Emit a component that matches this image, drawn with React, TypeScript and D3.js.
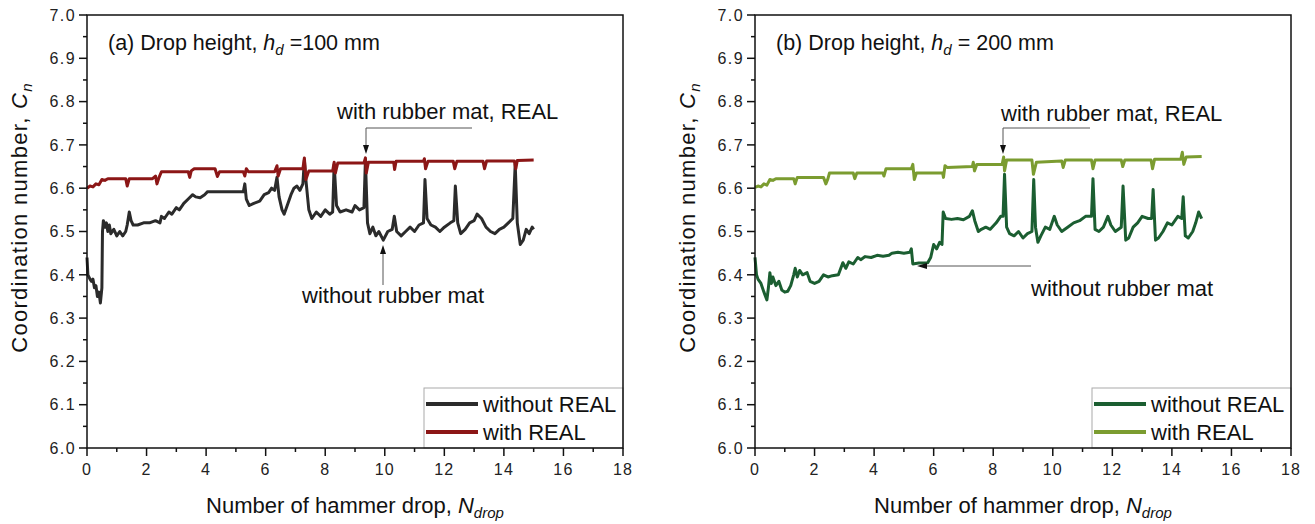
import React from 'react';
import * as d3 from 'd3';

type Pt = [number, number];

const xTickValues = [0, 2, 4, 6, 8, 10, 12, 14, 16, 18];
const xMinorValues = [1, 3, 5, 7, 9, 11, 13, 15, 17];
const yTickValues = [6.0, 6.1, 6.2, 6.3, 6.4, 6.5, 6.6, 6.7, 6.8, 6.9, 7.0];
const yMinorValues = [6.05, 6.15, 6.25, 6.35, 6.45, 6.55, 6.65, 6.75, 6.85, 6.95];
const legendLabels = ['without REAL', 'with REAL'];

// Panel (a): drop height 100 mm
const aWithout: Pt[] = [
  [0, 6.44], [0.03, 6.40], [0.1, 6.39], [0.15, 6.385], [0.2, 6.39], [0.25, 6.37], [0.3, 6.375], [0.35, 6.35],
  [0.4, 6.36], [0.45, 6.335], [0.5, 6.37], [0.52, 6.50], [0.55, 6.525], [0.6, 6.51], [0.65, 6.52], [0.7, 6.50],
  [0.75, 6.515], [0.8, 6.495], [0.9, 6.505], [1.0, 6.49], [1.1, 6.50], [1.2, 6.49], [1.3, 6.50], [1.35, 6.515],
  [1.42, 6.545], [1.48, 6.525], [1.55, 6.515], [1.7, 6.515], [1.9, 6.52], [2.1, 6.52], [2.3, 6.525], [2.45, 6.52],
  [2.5, 6.535], [2.6, 6.53], [2.75, 6.545], [2.85, 6.54], [3.0, 6.555], [3.1, 6.55], [3.25, 6.565], [3.4, 6.575],
  [3.55, 6.585], [3.65, 6.58], [3.8, 6.578], [3.95, 6.585], [4.05, 6.592], [5.25, 6.592], [5.3, 6.61], [5.35, 6.575],
  [5.45, 6.56], [5.6, 6.565], [5.8, 6.57], [5.95, 6.585], [6.1, 6.59], [6.2, 6.60], [6.3, 6.595], [6.38, 6.625],
  [6.45, 6.58], [6.55, 6.55], [6.62, 6.54], [6.75, 6.565], [6.85, 6.585], [6.95, 6.60], [7.05, 6.605], [7.15, 6.595],
  [7.25, 6.61], [7.3, 6.665], [7.35, 6.62], [7.45, 6.55], [7.55, 6.53], [7.7, 6.545], [7.85, 6.535], [8.0, 6.55],
  [8.15, 6.54], [8.25, 6.545], [8.3, 6.655], [8.38, 6.56], [8.5, 6.545], [8.7, 6.55], [8.9, 6.545], [9.0, 6.56],
  [9.15, 6.55], [9.3, 6.555], [9.35, 6.665], [9.42, 6.52], [9.5, 6.495], [9.6, 6.51], [9.7, 6.49], [9.8, 6.50],
  [9.95, 6.48], [10.1, 6.50], [10.25, 6.505], [10.32, 6.535], [10.4, 6.50], [10.55, 6.49], [10.7, 6.50], [10.85, 6.51],
  [11.0, 6.50], [11.15, 6.515], [11.3, 6.52], [11.35, 6.62], [11.42, 6.53], [11.55, 6.515], [11.7, 6.51], [11.85, 6.50],
  [12.0, 6.51], [12.2, 6.52], [12.32, 6.525], [12.37, 6.605], [12.45, 6.52], [12.55, 6.495], [12.7, 6.505], [12.85, 6.52],
  [13.0, 6.525], [13.1, 6.54], [13.25, 6.53], [13.4, 6.51], [13.55, 6.50], [13.7, 6.495], [13.85, 6.505], [14.0, 6.51],
  [14.15, 6.52], [14.3, 6.53], [14.38, 6.655], [14.45, 6.52], [14.55, 6.47], [14.65, 6.48], [14.75, 6.505], [14.85, 6.495],
  [14.95, 6.51], [15.0, 6.505],
];

const aWith: Pt[] = [
  [0, 6.60], [0.1, 6.605], [0.2, 6.603], [0.3, 6.61], [0.4, 6.608], [0.5, 6.62], [0.6, 6.618], [0.7, 6.622],
  [1.3, 6.622], [1.35, 6.605], [1.42, 6.622], [2.2, 6.622], [2.3, 6.628], [2.35, 6.61], [2.42, 6.625], [2.5, 6.638],
  [3.4, 6.638], [3.45, 6.625], [3.5, 6.64], [3.6, 6.645], [4.3, 6.645], [4.38, 6.627], [4.45, 6.638], [5.25, 6.638],
  [5.3, 6.628], [5.35, 6.645], [5.42, 6.638], [6.3, 6.638], [6.38, 6.652], [6.42, 6.628], [6.5, 6.645], [7.25, 6.645],
  [7.3, 6.67], [7.35, 6.62], [7.45, 6.64], [8.25, 6.64], [8.3, 6.66], [8.34, 6.635], [8.42, 6.658], [9.3, 6.658],
  [9.35, 6.67], [9.38, 6.635], [9.45, 6.66], [10.3, 6.66], [10.33, 6.643], [10.38, 6.662], [11.3, 6.662], [11.33, 6.668],
  [11.37, 6.645], [11.45, 6.662], [12.3, 6.662], [12.35, 6.645], [12.42, 6.662], [13.3, 6.662], [13.35, 6.645], [13.42, 6.663],
  [14.35, 6.663], [14.4, 6.645], [14.45, 6.664], [15.0, 6.665],
];

// Panel (b): drop height 200 mm
const bWithout: Pt[] = [
  [0, 6.44], [0.05, 6.40], [0.1, 6.39], [0.2, 6.38], [0.3, 6.36], [0.4, 6.342], [0.45, 6.37], [0.5, 6.405],
  [0.55, 6.38], [0.6, 6.395], [0.7, 6.375], [0.8, 6.385], [0.9, 6.365], [1.0, 6.36], [1.1, 6.362], [1.2, 6.375],
  [1.3, 6.40], [1.35, 6.415], [1.42, 6.395], [1.5, 6.41], [1.6, 6.40], [1.75, 6.405], [1.85, 6.385], [2.0, 6.38],
  [2.15, 6.385], [2.3, 6.40], [2.45, 6.395], [2.6, 6.398], [2.8, 6.40], [2.95, 6.428], [3.05, 6.415], [3.15, 6.43],
  [3.3, 6.425], [3.45, 6.44], [3.55, 6.435], [3.7, 6.442], [3.9, 6.44], [4.1, 6.445], [4.3, 6.443], [4.5, 6.445],
  [4.6, 6.45], [4.8, 6.452], [5.0, 6.45], [5.2, 6.452], [5.25, 6.46], [5.3, 6.425], [5.5, 6.427], [5.8, 6.428],
  [5.9, 6.44], [6.0, 6.47], [6.1, 6.46], [6.2, 6.475], [6.28, 6.47], [6.32, 6.545], [6.4, 6.53], [6.6, 6.528],
  [6.8, 6.53], [7.0, 6.527], [7.2, 6.535], [7.3, 6.548], [7.38, 6.525], [7.5, 6.50], [7.6, 6.505], [7.75, 6.51],
  [7.9, 6.505], [8.1, 6.52], [8.25, 6.535], [8.33, 6.535], [8.38, 6.632], [8.45, 6.51], [8.55, 6.495], [8.7, 6.49],
  [8.85, 6.50], [9.0, 6.485], [9.15, 6.495], [9.3, 6.50], [9.36, 6.62], [9.42, 6.51], [9.5, 6.475], [9.6, 6.49],
  [9.75, 6.51], [9.9, 6.505], [10.05, 6.535], [10.15, 6.515], [10.3, 6.50], [10.5, 6.51], [10.7, 6.52], [10.9, 6.525],
  [11.1, 6.535], [11.3, 6.535], [11.35, 6.622], [11.42, 6.505], [11.55, 6.50], [11.7, 6.51], [11.85, 6.535], [11.95, 6.515],
  [12.1, 6.50], [12.3, 6.51], [12.36, 6.605], [12.45, 6.48], [12.55, 6.485], [12.7, 6.51], [12.85, 6.52], [13.0, 6.535],
  [13.2, 6.53], [13.32, 6.53], [13.37, 6.597], [13.45, 6.48], [13.55, 6.485], [13.7, 6.50], [13.85, 6.52], [14.0, 6.515],
  [14.2, 6.535], [14.33, 6.53], [14.38, 6.58], [14.45, 6.49], [14.55, 6.485], [14.7, 6.50], [14.8, 6.52], [14.9, 6.545],
  [15.0, 6.53],
];

const bWith: Pt[] = [
  [0, 6.602], [0.1, 6.605], [0.2, 6.603], [0.3, 6.61], [0.4, 6.607], [0.5, 6.62], [0.6, 6.618], [0.7, 6.622],
  [1.3, 6.622], [1.35, 6.61], [1.42, 6.625], [2.3, 6.625], [2.38, 6.61], [2.45, 6.622], [2.5, 6.635], [3.3, 6.635],
  [3.35, 6.622], [3.42, 6.635], [4.3, 6.635], [4.33, 6.628], [4.4, 6.645], [5.25, 6.645], [5.3, 6.655], [5.35, 6.62],
  [5.42, 6.635], [6.3, 6.635], [6.33, 6.625], [6.38, 6.652], [6.45, 6.648], [7.3, 6.65], [7.33, 6.66], [7.37, 6.64],
  [7.45, 6.655], [8.3, 6.655], [8.35, 6.672], [8.38, 6.64], [8.45, 6.665], [9.3, 6.665], [9.35, 6.632], [9.45, 6.66],
  [10.3, 6.663], [10.35, 6.648], [10.42, 6.665], [11.3, 6.665], [11.35, 6.645], [11.42, 6.665], [12.3, 6.665], [12.35, 6.65],
  [12.42, 6.665], [13.3, 6.665], [13.35, 6.645], [13.42, 6.667], [14.3, 6.667], [14.35, 6.683], [14.4, 6.655], [14.48, 6.672],
  [15.0, 6.673],
];

const FONT = "'Liberation Sans', Arial, sans-serif";

type Annot = {
  text: string; tx: number; ty: number;
  path: [number, number][]; // leader polyline in data-free pixel offsets relative to panel
  tip: [number, number]; dir: 'up' | 'down' | 'left';
};

type PanelProps = {
  left: number; right: number; top: number; bottom: number;
  without: Pt[]; withR: Pt[]; colWithout: string; colWith: string;
  titlePrefix: string; titleValue: string; titleX: number;
  yTitleX: number;
  annots: Annot[];
};

function Arrow({ tip, dir }: { tip: [number, number]; dir: string }) {
  const [x, y] = tip;
  let d = '';
  if (dir === 'down') d = `M${x},${y} L${x - 3},${y - 9} L${x + 3},${y - 9} Z`;
  else if (dir === 'up') d = `M${x},${y} L${x - 3},${y + 9} L${x + 3},${y + 9} Z`;
  else d = `M${x},${y} L${x + 10},${y - 3} L${x + 10},${y + 3} Z`;
  return <path d={d} fill="#111" />;
}

function Panel(p: PanelProps) {
  const x = d3.scaleLinear().domain([0, 18]).range([p.left, p.right]);
  const y = d3.scaleLinear().domain([6.0, 7.0]).range([p.bottom, p.top]);
  const line = d3.line<Pt>().x(d => x(d[0])).y(d => y(d[1]));
  const midX = (p.left + p.right) / 2;
  const legX = p.right - 199;
  const legY = p.bottom - 60;
  return (
    <g fontFamily={FONT}>
      <path d={line(p.without) || ''} fill="none" stroke={p.colWithout} strokeWidth={3} strokeLinejoin="round" />
      <path d={line(p.withR) || ''} fill="none" stroke={p.colWith} strokeWidth={3} strokeLinejoin="round" />

      {/* legend */}
      <rect x={legX} y={legY} width={199} height={60} fill="#fff" stroke="#aaa" strokeWidth={1} />
      {legendLabels.map((lab, i) => (
        <g key={lab}>
          <line x1={legX + 2} x2={legX + 54} y1={legY + 16 + i * 28} y2={legY + 16 + i * 28}
            stroke={i === 0 ? p.colWithout : p.colWith} strokeWidth={4} />
          <text x={legX + 59} y={legY + 24 + i * 28} fontSize={22} fill="#111">{lab}</text>
        </g>
      ))}

      {/* frame */}
      <rect x={p.left} y={p.top} width={p.right - p.left} height={p.bottom - p.top} fill="none" stroke="#111" strokeWidth={1.5} />

      {/* y ticks */}
      {yTickValues.map(v => (
        <g key={'y' + v}>
          <line x1={p.left - 8} x2={p.left} y1={y(v)} y2={y(v)} stroke="#111" strokeWidth={1.5} />
          <text x={p.left - 11} y={y(v)} dy="0.36em" textAnchor="end" fontSize={16} letterSpacing={1.4} fill="#222">{v.toFixed(1)}</text>
        </g>
      ))}
      {yMinorValues.map(v => (
        <line key={'ym' + v} x1={p.left - 4} x2={p.left} y1={y(v)} y2={y(v)} stroke="#111" strokeWidth={1.5} />
      ))}
      {/* x ticks */}
      {xTickValues.map(v => (
        <g key={'x' + v}>
          <line x1={x(v)} x2={x(v)} y1={p.bottom} y2={p.bottom + 8} stroke="#111" strokeWidth={1.5} />
          <text x={x(v)} y={p.bottom + 27} textAnchor="middle" fontSize={16} letterSpacing={1.2} fill="#222">{v}</text>
        </g>
      ))}
      {xMinorValues.map(v => (
        <line key={'xm' + v} x1={x(v)} x2={x(v)} y1={p.bottom} y2={p.bottom + 4} stroke="#111" strokeWidth={1.5} />
      ))}

      {/* axis titles */}
      <text x={midX} y={p.bottom + 65} textAnchor="middle" fontSize={22} fill="#111">
        Number of hammer drop, <tspan fontStyle="italic">N</tspan>
        <tspan fontStyle="italic" fontSize={15} dy={5}>drop</tspan>
      </text>
      <text transform={`translate(${p.yTitleX},${(p.top + p.bottom) / 2 - 14}) rotate(-90)`} textAnchor="middle" fontSize={22} letterSpacing={1.3} fill="#111">
        Coordination number, <tspan fontStyle="italic">C</tspan>
        <tspan fontStyle="italic" fontSize={15} dy={5}>n</tspan>
      </text>

      {/* panel title */}
      <text x={p.titleX} y={p.top + 35} fontSize={21.5} fill="#111">
        {p.titlePrefix}<tspan fontStyle="italic">h</tspan>
        <tspan fontStyle="italic" fontSize={15} dy={5}>d</tspan>
        <tspan dy={-5}>{p.titleValue}</tspan>
      </text>

      {/* annotations */}
      {p.annots.map((a, i) => (
        <g key={i}>
          <text x={a.tx} y={a.ty} fontSize={22} fill="#111">{a.text}</text>
          <polyline points={a.path.map(q => q.join(',')).join(' ')} fill="none" stroke="#555" strokeWidth={1} />
          <Arrow tip={a.tip} dir={a.dir} />
        </g>
      ))}
    </g>
  );
}

export default function App() {
  return (
    <svg width={1315} height={524} style={{ position: 'absolute', left: 0, top: 0, background: '#fff' }}>
      <rect width={1315} height={524} fill="#fff" />
      <Panel left={87} right={623} top={15} bottom={448}
        without={aWithout} withR={aWith} colWithout="#2b2b2b" colWith="#8c1616"
        titlePrefix="(a) Drop height, " titleValue=" =100 mm" titleX={108}
        yTitleX={27}
        annots={[
          { text: 'with rubber mat, REAL', tx: 337, ty: 119, path: [[472, 128], [366, 128], [366, 146]], tip: [366, 154], dir: 'down' },
          { text: 'without rubber mat', tx: 302, ty: 303, path: [[383, 285], [383, 252]], tip: [383, 245], dir: 'up' },
        ]}
      />
      <Panel left={755} right={1291} top={15} bottom={448}
        without={bWithout} withR={bWith} colWithout="#1b5e31" colWith="#7b9c30"
        titlePrefix="(b) Drop height, " titleValue=" = 200 mm" titleX={776}
        yTitleX={695}
        annots={[
          { text: 'with rubber mat, REAL', tx: 1001, ty: 121, path: [[1090, 128], [1003, 128], [1003, 146]], tip: [1003, 154], dir: 'down' },
          { text: 'without rubber mat', tx: 1031, ty: 296, path: [[1031, 266], [926, 266]], tip: [917, 266], dir: 'left' },
        ]}
      />
    </svg>
  );
}
